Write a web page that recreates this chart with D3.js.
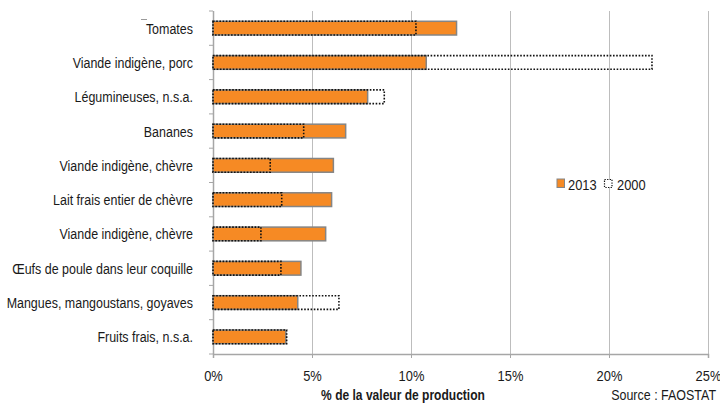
<!DOCTYPE html>
<html>
<head>
<meta charset="utf-8">
<script src="https://cdn.jsdelivr.net/npm/d3@7"></script>
<style>
  html, body { margin: 0; padding: 0; background: #fff; }
  svg { display: block; }
  text { font-family: "Liberation Sans", Arial, sans-serif; fill: #1a1a1a; }
</style>
</head>
<body>
<svg id="chart" width="720" height="403"></svg>
<script>
// Share of production value (%) by product
const categories = [
  "Tomates",
  "Viande indigène, porc",
  "Légumineuses, n.s.a.",
  "Bananes",
  "Viande indigène, chèvre",
  "Lait frais entier de chèvre",
  "Viande indigène, chèvre",
  "Œufs de poule dans leur coquille",
  "Mangues, mangoustans, goyaves",
  "Fruits frais, n.s.a."
];
const values2013 = [12.3, 10.77, 7.81, 6.70, 6.08, 5.99, 5.69, 4.44, 4.28, 3.68];
const values2000 = [10.25, 22.17, 8.65, 4.58, 2.89, 3.47, 2.42, 3.43, 6.36, 3.72];
const xTicks = [0, 5, 10, 15, 20, 25];
const seriesNames = ["2013", "2000"];

const svg = d3.select("#chart");
const plotLeft = 213, plotRight = 708, plotTop = 11, plotBottom = 354;
// horizontal squeeze giving the condensed lettering
const squeeze = 0.86;

// text helper: anchored at (x, y), condensed horizontally
function label(parent, tx, ty, str, size, anchor, weight, fill) {
  return parent.append("text")
    .attr("transform", `translate(${tx},${ty}) scale(${squeeze},1)`)
    .attr("text-anchor", anchor || "start")
    .attr("font-size", size)
    .attr("font-weight", weight || "normal")
    .attr("fill", fill || "#1a1a1a")
    .text(str);
}

const x = d3.scaleLinear().domain([0, 25]).range([plotLeft, plotRight]);
const y = d3.scaleBand()
  .domain(categories.map((c, i) => i))
  .range([plotTop, plotBottom])
  .paddingInner(0.6)
  .paddingOuter(0.3);

// vertical gridlines
svg.append("g")
  .selectAll("line")
  .data(xTicks.slice(1))
  .join("line")
  .attr("x1", d => Math.round(x(d)) + 0.5)
  .attr("x2", d => Math.round(x(d)) + 0.5)
  .attr("y1", plotTop)
  .attr("y2", plotBottom)
  .attr("stroke", "#bdbdbd")
  .attr("stroke-width", 1);

// bottom axis
const xAxis = d3.axisBottom(x)
  .tickValues(xTicks)
  .tickFormat(d => d + "%")
  .tickSize(4)
  .tickPadding(12);
const gx = svg.append("g").attr("transform", `translate(0,${plotBottom})`).call(xAxis);
gx.select(".domain").attr("stroke", "#a6a6a6").attr("stroke-width", 1.5);
gx.selectAll(".tick line").attr("stroke", "#a6a6a6");
gx.selectAll(".tick text")
  .attr("font-size", 15)
  .attr("font-family", "Liberation Sans, Arial, sans-serif")
  .attr("fill", "#1a1a1a")
  .attr("transform", `scale(${squeeze},1)`);

// left axis: line with tick marks at category boundaries
const yEdge = d3.scaleLinear().domain([0, categories.length]).range([plotTop, plotBottom]);
svg.append("line")
  .attr("x1", plotLeft + 0.5).attr("x2", plotLeft + 0.5)
  .attr("y1", plotTop).attr("y2", plotBottom)
  .attr("stroke", "#a6a6a6").attr("stroke-width", 1.5);
svg.append("g")
  .selectAll("line")
  .data(d3.range(categories.length + 1))
  .join("line")
  .attr("x1", plotLeft - 4).attr("x2", plotLeft)
  .attr("y1", d => yEdge(d)).attr("y2", d => yEdge(d))
  .attr("stroke", "#a6a6a6");

// category labels
const labels = svg.append("g");
categories.forEach((c, i) => {
  label(labels, 193, y(i) + y.bandwidth() / 2 + 5.5, c, 14.5, "end");
});

// 2013 bars: orange with grey edge
svg.append("g")
  .selectAll("rect")
  .data(values2013)
  .join("rect")
  .attr("x", x(0))
  .attr("y", (d, i) => y(i))
  .attr("width", d => x(d) - x(0))
  .attr("height", y.bandwidth())
  .attr("fill", "#f68a24")
  .attr("stroke", "#858585")
  .attr("stroke-width", 1.5);

// 2000 bars: dotted outline, drawn over the 2013 bars
svg.append("g")
  .selectAll("rect")
  .data(values2000)
  .join("rect")
  .attr("x", x(0))
  .attr("y", (d, i) => y(i))
  .attr("width", d => x(d) - x(0))
  .attr("height", y.bandwidth())
  .attr("fill", "none")
  .attr("stroke", "#111")
  .attr("stroke-width", 1.6)
  .attr("stroke-dasharray", "1.6,1.6");

// legend
const legend = svg.append("g").attr("transform", "translate(557,179)");
legend.append("rect")
  .attr("x", 0).attr("y", 0).attr("width", 7.5).attr("height", 8.5)
  .attr("fill", "#f68a24").attr("stroke", "#858585").attr("stroke-width", 1);
label(legend, 11, 10.5, seriesNames[0], 15);
legend.append("rect")
  .attr("x", 47.5).attr("y", 0.5).attr("width", 7.5).attr("height", 8)
  .attr("fill", "#fff").attr("stroke", "#111").attr("stroke-width", 1.2)
  .attr("stroke-dasharray", "1.3,1.3");
label(legend, 60, 10.5, seriesNames[1], 15);

// axis title and source
label(svg, 403, 400, "% de la valeur de production", 14, "middle", "bold");
label(svg, 716, 400, "Source : FAOSTAT", 14.5, "end", "normal", "#333");

// small stroke beside the first label
svg.append("line")
  .attr("x1", 141).attr("x2", 147)
  .attr("y1", 19.5).attr("y2", 19.5)
  .attr("stroke", "#9a9a9a");
</script>
</body>
</html>
